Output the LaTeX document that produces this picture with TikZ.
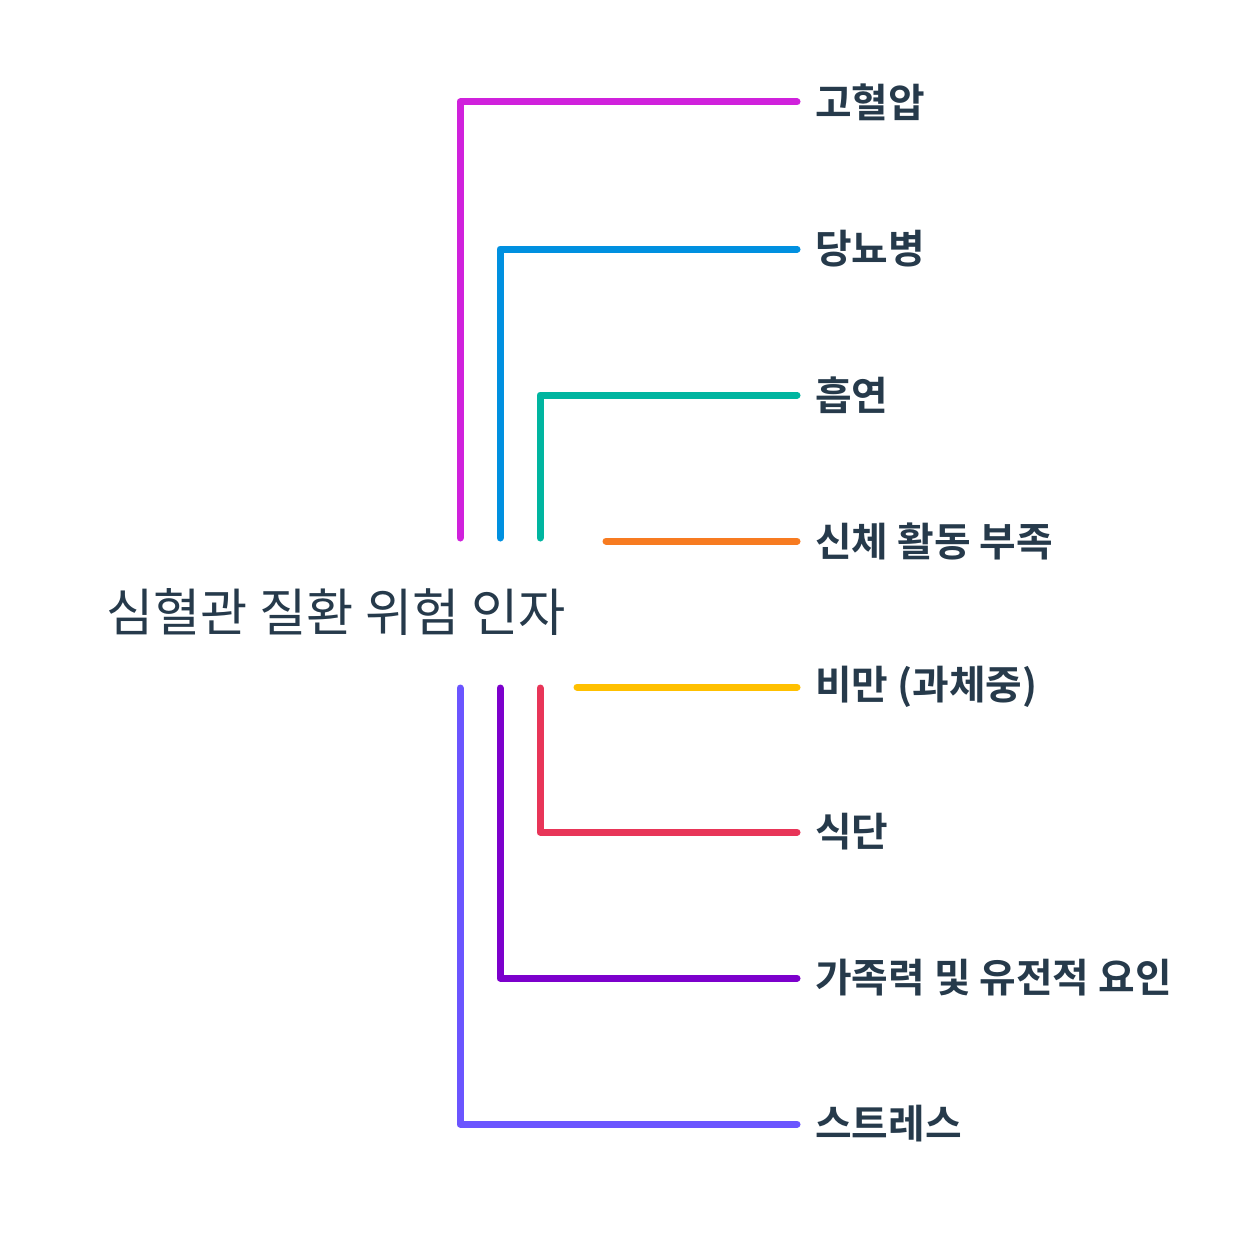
\documentclass[tikz,border=0pt]{standalone}
\usepackage{fontspec}
\newfontfamily\krfont{Noto Sans CJK KR}
\newfontfamily\krbold{Noto Sans CJK KR Bold}
\definecolor{txt}{HTML}{263A4B}
\definecolor{cA}{HTML}{D021DC}
\definecolor{cB}{HTML}{0090E0}
\definecolor{cC}{HTML}{00B5A0}
\definecolor{cD}{HTML}{F77B21}
\definecolor{cE}{HTML}{FFC000}
\definecolor{cF}{HTML}{E83558}
\definecolor{cG}{HTML}{7C00CC}
\definecolor{cH}{HTML}{6B55FF}
\tikzset{
  conn/.style={line width=7pt, line cap=round, line join=round, shorten >=18pt},
  lbl/.style={anchor=west, inner sep=0pt, text=txt, font=\krbold\fontsize{39.8}{42}\selectfont},
  ttl/.style={anchor=west, inner sep=0pt, text=txt, font=\krfont\fontsize{51.3}{55}\selectfont}
}
\begin{document}
\begin{tikzpicture}[x=1pt,y=-1pt]
\useasboundingbox (0,0) rectangle (1258,1260);
\node[ttl] (title) at (106,612) {심혈관 질환 위험 인자};
\node[lbl] (l1) at (815,102) {고혈압};
\node[lbl] (l2) at (815,249) {당뇨병};
\node[lbl] (l3) at (815,395) {흡연};
\node[lbl] (l4) at (815,541) {신체 활동 부족};
\node[lbl] (l5) at (815,687) {비만 (과체중)};
\node[lbl] (l6) at (815,832) {식단};
\node[lbl] (l7) at (815,978) {가족력 및 유전적 요인};
\node[lbl] (l8) at (815,1124) {스트레스};
\coordinate (s1) at (460,538);
\coordinate (s2) at (500,538);
\coordinate (s3) at (540,538);
\coordinate (s4) at (606,541);
\coordinate (s5) at (577,687);
\coordinate (s6) at (540,688);
\coordinate (s7) at (500,688);
\coordinate (s8) at (460,688);
\draw[conn, cA] (s1) |- (l1.west);
\draw[conn, cB] (s2) |- (l2.west);
\draw[conn, cC] (s3) |- (l3.west);
\draw[conn, cD] (s4) -- (s4 -| l4.west);
\draw[conn, cE] (s5) -- (s5 -| l5.west);
\draw[conn, cF] (s6) |- (l6.west);
\draw[conn, cG] (s7) |- (l7.west);
\draw[conn, cH] (s8) |- (l8.west);
\end{tikzpicture}
\end{document}
